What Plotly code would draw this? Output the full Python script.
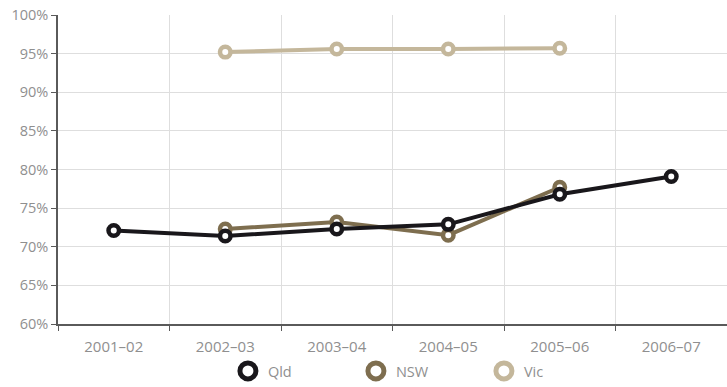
import plotly.graph_objects as go

# Financial years shown on the x axis
years = ["2001–02", "2002–03", "2003–04", "2004–05", "2005–06", "2006–07"]

# Percentage series per state (None where no figure was reported)
qld = [72.1, 71.4, 72.3, 72.9, 76.8, 79.1]
nsw = [None, 72.3, 73.2, 71.5, 77.7, None]
vic = [None, 95.2, 95.6, 95.6, 95.7, None]

y_ticks = [60, 65, 70, 75, 80, 85, 90, 95, 100]
y_tick_text = [f"{v}%" for v in y_ticks]

series = [
    ("Vic", vic, "#c4b79b"),
    ("NSW", nsw, "#7e6e4f"),
    ("Qld", qld, "#19171b"),
]

fig = go.Figure()

for name, values, colour in series:
    xs = [x for x, v in zip(years, values) if v is not None]
    ys = [v for v in values if v is not None]
    fig.add_trace(go.Scatter(
        x=xs, y=ys, mode="lines+markers", name=name, showlegend=False,
        line=dict(color=colour, width=4),
        marker=dict(symbol="circle", size=10.5, color="white",
                    line=dict(color=colour, width=4.5)),
        hovertemplate="%{x}: %{y}%<extra>" + name + "</extra>",
    ))

# Legend entries: marker-only swatches in Qld, NSW, Vic order
for name, values, colour in reversed(series):
    fig.add_trace(go.Scatter(
        x=[None], y=[None], mode="markers", name=name,
        marker=dict(symbol="circle", size=16, color="white",
                    line=dict(color=colour, width=5)),
    ))

y_font = dict(family="Open Sans, Noto Sans, sans-serif", size=14.5, color="#8f8f8f")
x_font = dict(family="Open Sans, Noto Sans, sans-serif", size=15, color="#8f8f8f")

fig.update_layout(
    width=727, height=387,
    margin=dict(l=58, r=0, t=15, b=59),
    paper_bgcolor="white", plot_bgcolor="white",
    showlegend=True,
    legend=dict(
        orientation="h", x=0.254, xanchor="left", y=-0.152, yanchor="middle",
        entrywidth=83, entrywidthmode="pixels",
        font=dict(family="Open Sans, Noto Sans, sans-serif", size=14.5, color="#8f8f8f"),
        traceorder="normal",
    ),
    xaxis=dict(
        type="category", categoryorder="array", categoryarray=years,
        range=[-0.5, 5.5], tickson="boundaries",
        showgrid=True, gridcolor="#dedede", gridwidth=1,
        showline=True, linecolor="#5a5a5a", linewidth=1.5,
        ticks="outside", ticklen=5, tickcolor="#5a5a5a",
        ticklabelstandoff=8,
        tickfont=x_font, fixedrange=True,
    ),
    yaxis=dict(
        range=[60, 100], tickvals=y_ticks, ticktext=y_tick_text,
        showgrid=True, gridcolor="#dedede", gridwidth=1,
        showline=True, linecolor="#5a5a5a", linewidth=1.5,
        ticks="outside", ticklen=5, tickcolor="#5a5a5a",
        tickfont=y_font, zeroline=False, fixedrange=True,
    ),
)

fig.write_html("out.html")
